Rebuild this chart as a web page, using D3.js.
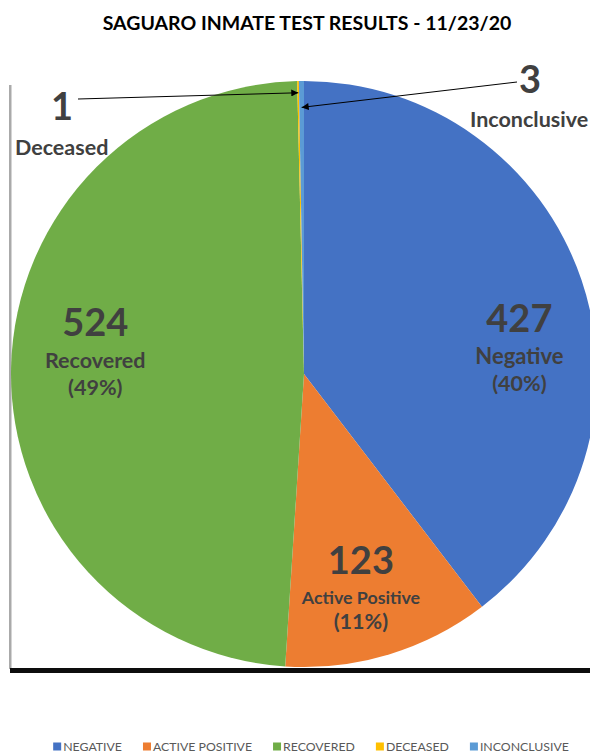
<!DOCTYPE html>
<html>
<head>
<meta charset="utf-8">
<script src="https://cdn.jsdelivr.net/npm/d3@7"></script>
<style>
  body { margin: 0; background: #fff; }
  svg text { font-family: Lato, "Open Sans", sans-serif; }
</style>
</head>
<body>
<div id="chart"></div>
<script>
// chart data
const categories = ["Negative", "Active Positive", "Recovered", "Deceased", "Inconclusive"];
const counts = [427, 123, 524, 1, 3];
const legendLabels = ["NEGATIVE", "ACTIVE POSITIVE", "RECOVERED", "DECEASED", "INCONCLUSIVE"];
const colors = ["#4472C4", "#ED7D31", "#70AD47", "#FFC000", "#5B9BD5"];
const title = "SAGUARO INMATE TEST RESULTS - 11/23/20";

const width = 590, height = 756;
const cx = 304, cy = 374, radius = 293;
const total = d3.sum(counts);

const svg = d3.select("#chart").append("svg")
    .attr("width", width)
    .attr("height", height);

const defs = svg.append("defs");
defs.append("filter").attr("id", "blur")
    .append("feGaussianBlur").attr("stdDeviation", 0.7);
defs.append("marker")
    .attr("id", "arrow")
    .attr("viewBox", "0 0 10 10")
    .attr("refX", 10).attr("refY", 5)
    .attr("markerWidth", 9).attr("markerHeight", 7)
    .attr("markerUnits", "userSpaceOnUse")
    .attr("orient", "auto")
    .append("path").attr("d", "M0,0 L10,5 L0,10 z").attr("fill", "#000");

// title
svg.append("text")
    .attr("x", 307).attr("y", 30)
    .attr("text-anchor", "middle")
    .attr("font-size", 19.5).attr("font-weight", 700)
    .attr("fill", "#000")
    .text(title);

// frame: grey left edge and heavy shadowed bottom
svg.append("rect")
    .attr("x", 9).attr("y", 85).attr("width", 2.5).attr("height", 584)
    .attr("fill", "#aaaaaa").attr("filter", "url(#blur)");
svg.append("rect")
    .attr("x", 10).attr("y", 668).attr("width", width - 10).attr("height", 5)
    .attr("fill", "#111").attr("filter", "url(#blur)");

// pie
const pie = d3.pie().sort(null).value(d => d.count);
const data = categories.map((c, i) => ({ name: c, count: counts[i], color: colors[i] }));
const arcs = pie(data);
const arc = d3.arc().innerRadius(0).outerRadius(radius);

const g = svg.append("g").attr("transform", `translate(${cx},${cy})`);
g.selectAll("path.slice")
    .data(arcs)
    .enter().append("path")
    .attr("class", "slice")
    .attr("d", arc)
    .attr("fill", d => d.data.color);

// big slice labels (number / name / percent)
const labelArc = d3.arc().innerRadius(radius * 0.74).outerRadius(radius * 0.74);
const nudge = { "Negative": [10, 60], "Active Positive": [-6, 23], "Recovered": [8, -2] };
const nameSize = { "Negative": 22, "Active Positive": 17.8, "Recovered": 21.5 };

arcs.filter(d => nudge[d.data.name]).forEach(d => {
    let c = labelArc.centroid(d);
    let x = c[0] + nudge[d.data.name][0];
    let y = c[1] + nudge[d.data.name][1];
    let lg = g.append("g").attr("fill", "#404040").attr("text-anchor", "middle").attr("font-weight", 700);
    let small = d.data.name === "Active Positive";
    lg.append("text").attr("x", x).attr("y", y - (small ? 30 : 32))
        .attr("font-size", 38).text(d.data.count);
    lg.append("text").attr("x", x).attr("y", y)
        .attr("font-size", nameSize[d.data.name]).text(d.data.name);
    lg.append("text").attr("x", x).attr("y", y + (small ? 25 : 27))
        .attr("font-size", 21.5)
        .text("(" + Math.round(d.data.count / total * 100) + "%)");
});

// callouts for the tiny slices
const callouts = [
    { name: "Deceased", numX: 62, numY: 120, nameX: 15, nameY: 155, tail: [78, 99], r: 0.96 },
    { name: "Inconclusive", numX: 530, numY: 93, nameX: 470, nameY: 127, tail: [517, 82], r: 0.91 }
];
callouts.forEach(co => {
    let d = arcs.find(a => a.data.name === co.name);
    let mid = (d.startAngle + d.endAngle) / 2;
    let tip = [Math.sin(mid) * radius * co.r, -Math.cos(mid) * radius * co.r];
    g.append("line")
        .attr("x1", co.tail[0] - cx).attr("y1", co.tail[1] - cy)
        .attr("x2", tip[0]).attr("y2", tip[1])
        .attr("stroke", "#000").attr("stroke-width", 1)
        .attr("marker-end", "url(#arrow)");
    svg.append("text")
        .attr("x", co.numX).attr("y", co.numY)
        .attr("text-anchor", "middle")
        .attr("font-size", 38).attr("font-weight", 700).attr("fill", "#404040")
        .text(d.data.count);
    svg.append("text")
        .attr("x", co.nameX).attr("y", co.nameY)
        .attr("font-size", 21.5).attr("font-weight", 700).attr("fill", "#404040")
        .text(co.name);
});

// legend
const legend = svg.append("g").attr("font-size", 12.3).attr("fill", "#595959");
let items = legend.selectAll("g.item")
    .data(legendLabels)
    .enter().append("g").attr("class", "item");
items.append("rect")
    .attr("width", 8).attr("height", 8)
    .attr("y", -8.5)
    .attr("fill", (d, i) => colors[i]);
items.append("text")
    .attr("x", 10)
    .text(d => d);

let xpos = 0, widths = [];
items.each(function() { widths.push(this.getBBox().width); });
let totalW = d3.sum(widths) + 21 * (widths.length - 1);
xpos = 311 - totalW / 2;
items.attr("transform", (d, i) => {
    let t = `translate(${xpos},751)`;
    xpos += widths[i] + 21;
    return t;
});
</script>
</body>
</html>
